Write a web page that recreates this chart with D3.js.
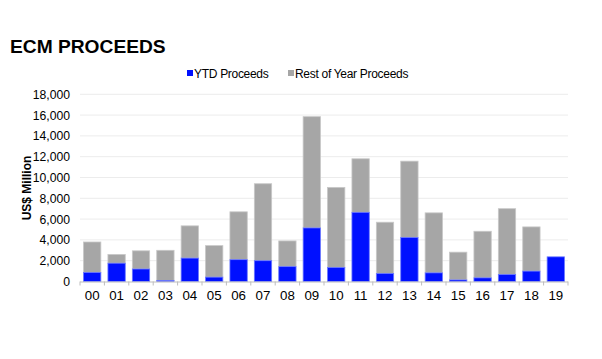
<!DOCTYPE html>
<html><head><meta charset="utf-8">
<script src="https://cdn.jsdelivr.net/npm/d3@7"></script>
<style>body{margin:0;background:#fff;}svg{display:block;font-family:"Liberation Sans",Arial,sans-serif;}</style>
</head><body><svg id="c" width="602" height="359"></svg>
<script>
const categories = ["00","01","02","03","04","05","06","07","08","09","10","11","12","13","14","15","16","17","18","19"];
const ytdProceeds = [870,1760,1200,100,2250,420,2100,2000,1430,5150,1350,6650,770,4230,830,150,350,670,1000,2370];
const totalProceeds = [3800,2600,2950,3000,5350,3450,6700,9400,3900,15850,9050,11800,5700,11570,6600,2820,4830,7000,5250,2370];
const restOfYear = totalProceeds.map((t,i)=>Math.max(0,t-ytdProceeds[i]));
const yTicks = [0,2000,4000,6000,8000,10000,12000,14000,16000,18000];
const seriesNames = ["YTD Proceeds","Rest of Year Proceeds"];
const colors = ["#0010ff","#a6a6a6"];

const svg = d3.select("#c");
const x = d3.scaleBand().domain(categories).range([80,568]).paddingInner(0.29).paddingOuter(0.145);
const y = d3.scaleLinear().domain([0,18000]).range([281.5,94.3]);

svg.append("text").attr("x",10).attr("y",52.5).attr("font-size",19.2).attr("font-weight","bold").attr("fill","#000").text("ECM PROCEEDS");

// gridlines
svg.append("g").selectAll("line").data(yTicks.slice(1)).join("line")
  .attr("x1",80).attr("x2",568).attr("y1",d=>y(d)).attr("y2",d=>y(d))
  .attr("stroke","#ececec").attr("stroke-width",1);

// y axis labels
const ya = svg.append("g").attr("transform","translate(80,0)")
  .call(d3.axisLeft(y).tickValues(yTicks).tickFormat(d3.format(",")).tickSize(0).tickPadding(10));
ya.select(".domain").remove();
ya.selectAll("text").attr("font-size",12.2).attr("fill","#000").attr("font-family","Liberation Sans, Arial, sans-serif");

svg.append("text").attr("transform","translate(31,188) rotate(-90)").attr("text-anchor","middle")
  .attr("font-size",12).attr("font-weight","bold").text("US$ Million");

// bars (stacked: YTD at bottom, rest of year on top)
const g = svg.append("g");
g.selectAll("rect.rest").data(categories).join("rect").attr("class","rest")
  .attr("x",d=>x(d)).attr("width",x.bandwidth())
  .attr("y",(d,i)=>y(ytdProceeds[i]+restOfYear[i])).attr("height",(d,i)=>y(0)-y(restOfYear[i]))
  .attr("fill",colors[1]).attr("stroke","#c8c8c8").attr("stroke-width",0.8);
g.selectAll("rect.ytd").data(categories).join("rect").attr("class","ytd")
  .attr("x",d=>x(d)).attr("width",x.bandwidth())
  .attr("y",(d,i)=>y(ytdProceeds[i])).attr("height",(d,i)=>y(0)-y(ytdProceeds[i]))
  .attr("fill",colors[0]).attr("stroke","#6a78ff").attr("stroke-width",0.8);

// x axis
svg.append("line").attr("x1",80).attr("x2",568).attr("y1",y(0)+0.5).attr("y2",y(0)+0.5).attr("stroke","#bdbdbd");
const bounds = categories.map(c=>x(c)-x.step()*x.paddingInner()/2).concat([568]);
svg.append("g").selectAll("line").data(bounds).join("line")
  .attr("x1",d=>d).attr("x2",d=>d).attr("y1",y(0)).attr("y2",y(0)+4).attr("stroke","#bdbdbd");
svg.append("g").selectAll("text").data(categories).join("text")
  .attr("x",d=>x(d)+x.bandwidth()/2).attr("y",300).attr("text-anchor","middle")
  .attr("font-size",13.3).attr("fill","#000").text(d=>d);

// legend
const lg = svg.append("g");
const lx = [187,288];
seriesNames.forEach((n,i)=>{
  lg.append("rect").attr("x",lx[i]).attr("y",70).attr("width",6).attr("height",6).attr("fill",colors[i]);
  lg.append("text").attr("x",lx[i]+7).attr("y",78).attr("font-size",12).attr("letter-spacing",-0.3).text(n);
});
</script></body></html>
